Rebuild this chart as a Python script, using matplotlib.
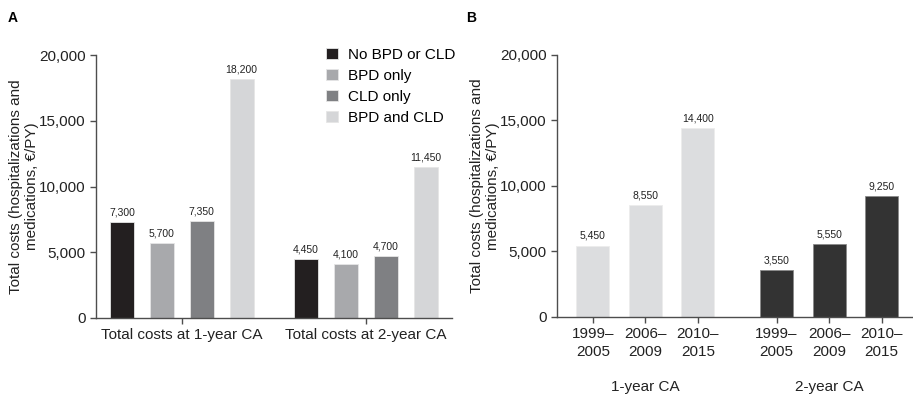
import matplotlib.pyplot as plt
import numpy as np

plt.rcParams['font.family'] = ['Liberation Sans', 'DejaVu Sans']

# panel A: cost per group and timepoint
groups_a = ['Total costs at 1-year CA', 'Total costs at 2-year CA']
categories = ['No BPD or CLD', 'BPD only', 'CLD only', 'BPD and CLD']
costs_a = {
    'No BPD or CLD': [7300, 4450],
    'BPD only': [5700, 4100],
    'CLD only': [7350, 4700],
    'BPD and CLD': [18200, 11450],
}
colors_a = ['#231f20', '#a8a9ac', '#7f8083', '#d5d6d8']

# panel B: cost by birth period
periods = ['1999–\n2005', '2006–\n2009', '2010–\n2015']
costs_1yr = [5450, 8550, 14400]
costs_2yr = [3550, 5550, 9250]
group_labels_b = ['1-year CA', '2-year CA']

axis_col = '#4d4d4d'
ylabel = 'Total costs (hospitalizations and\nmedications, €/PY)'


def style_axis(ax, label_x):
    ax.spines['top'].set_visible(False)
    ax.spines['right'].set_visible(False)
    for s in ['left', 'bottom']:
        ax.spines[s].set_color(axis_col)
        ax.spines[s].set_linewidth(1.0)
    ax.set_ylim(0, 20000)
    ax.set_yticks([0, 5000, 10000, 15000, 20000])
    ax.set_yticklabels(['{:,}'.format(v) for v in [0, 5000, 10000, 15000, 20000]])
    ax.tick_params(axis='both', colors=axis_col, labelcolor='#222222',
                   labelsize=11, length=4, width=1)
    ax.set_ylabel(ylabel, fontsize=11, color='#222222')
    ax.yaxis.set_label_coords(label_x, 0.5)


fig = plt.figure(figsize=(9.13, 3.96), dpi=100)

# ---- panel A ----
ax1 = fig.add_axes([0.105, 0.197, 0.39, 0.664])
x = np.arange(len(groups_a))
offsets = [-0.325, -0.108, 0.108, 0.325]
w = 0.13
for cat, off, col in zip(categories, offsets, colors_a):
    vals = costs_a[cat]
    ax1.bar(x + off, vals, w, color=col, edgecolor='#e6e6e6', linewidth=0.6,
            label=cat)
    for xi, v in zip(x, vals):
        ax1.text(xi + off, v + 350, '{:,}'.format(v), ha='center', va='bottom',
                 fontsize=7.5, color='#222222')
ax1.set_xlim(-0.467, 1.467)
ax1.set_xticks(x)
ax1.set_xticklabels(groups_a)
style_axis(ax1, -0.16)
ax1.legend(loc='upper left', bbox_to_anchor=(0.63, 1.05), frameon=False,
           fontsize=11, handlelength=0.75, handleheight=0.75,
           handletextpad=0.7, labelspacing=0.45, borderaxespad=0)
fig.text(0.008, 0.945, 'A', fontsize=10, fontweight='bold')

# ---- panel B ----
ax2 = fig.add_axes([0.610, 0.1995, 0.39, 0.662])
pos1 = np.arange(3)
pos2 = pos1 + 3.5
wb = 0.63
ax2.bar(pos1, costs_1yr, wb, color='#dcdddf', edgecolor='#ececec', linewidth=0.6)
ax2.bar(pos2, costs_2yr, wb, color='#333333', edgecolor='#8a8a8a', linewidth=0.6)
for p, v in zip(np.concatenate([pos1, pos2]), costs_1yr + costs_2yr):
    ax2.text(p, v + 350, '{:,}'.format(v), ha='center', va='bottom',
             fontsize=7.5, color='#222222')
ax2.set_xlim(-0.686, 6.1)
ax2.set_xticks(np.concatenate([pos1, pos2]))
ax2.set_xticklabels(periods * 2, linespacing=1.3)
style_axis(ax2, -0.16)
for cx, lab in zip([pos1.mean(), pos2.mean()], group_labels_b):
    ax2.text(cx, -0.267, lab, transform=ax2.get_xaxis_transform(),
             ha='center', va='center', fontsize=11, color='#222222')
fig.text(0.511, 0.945, 'B', fontsize=10, fontweight='bold')

fig.savefig('out.png', dpi=100)
